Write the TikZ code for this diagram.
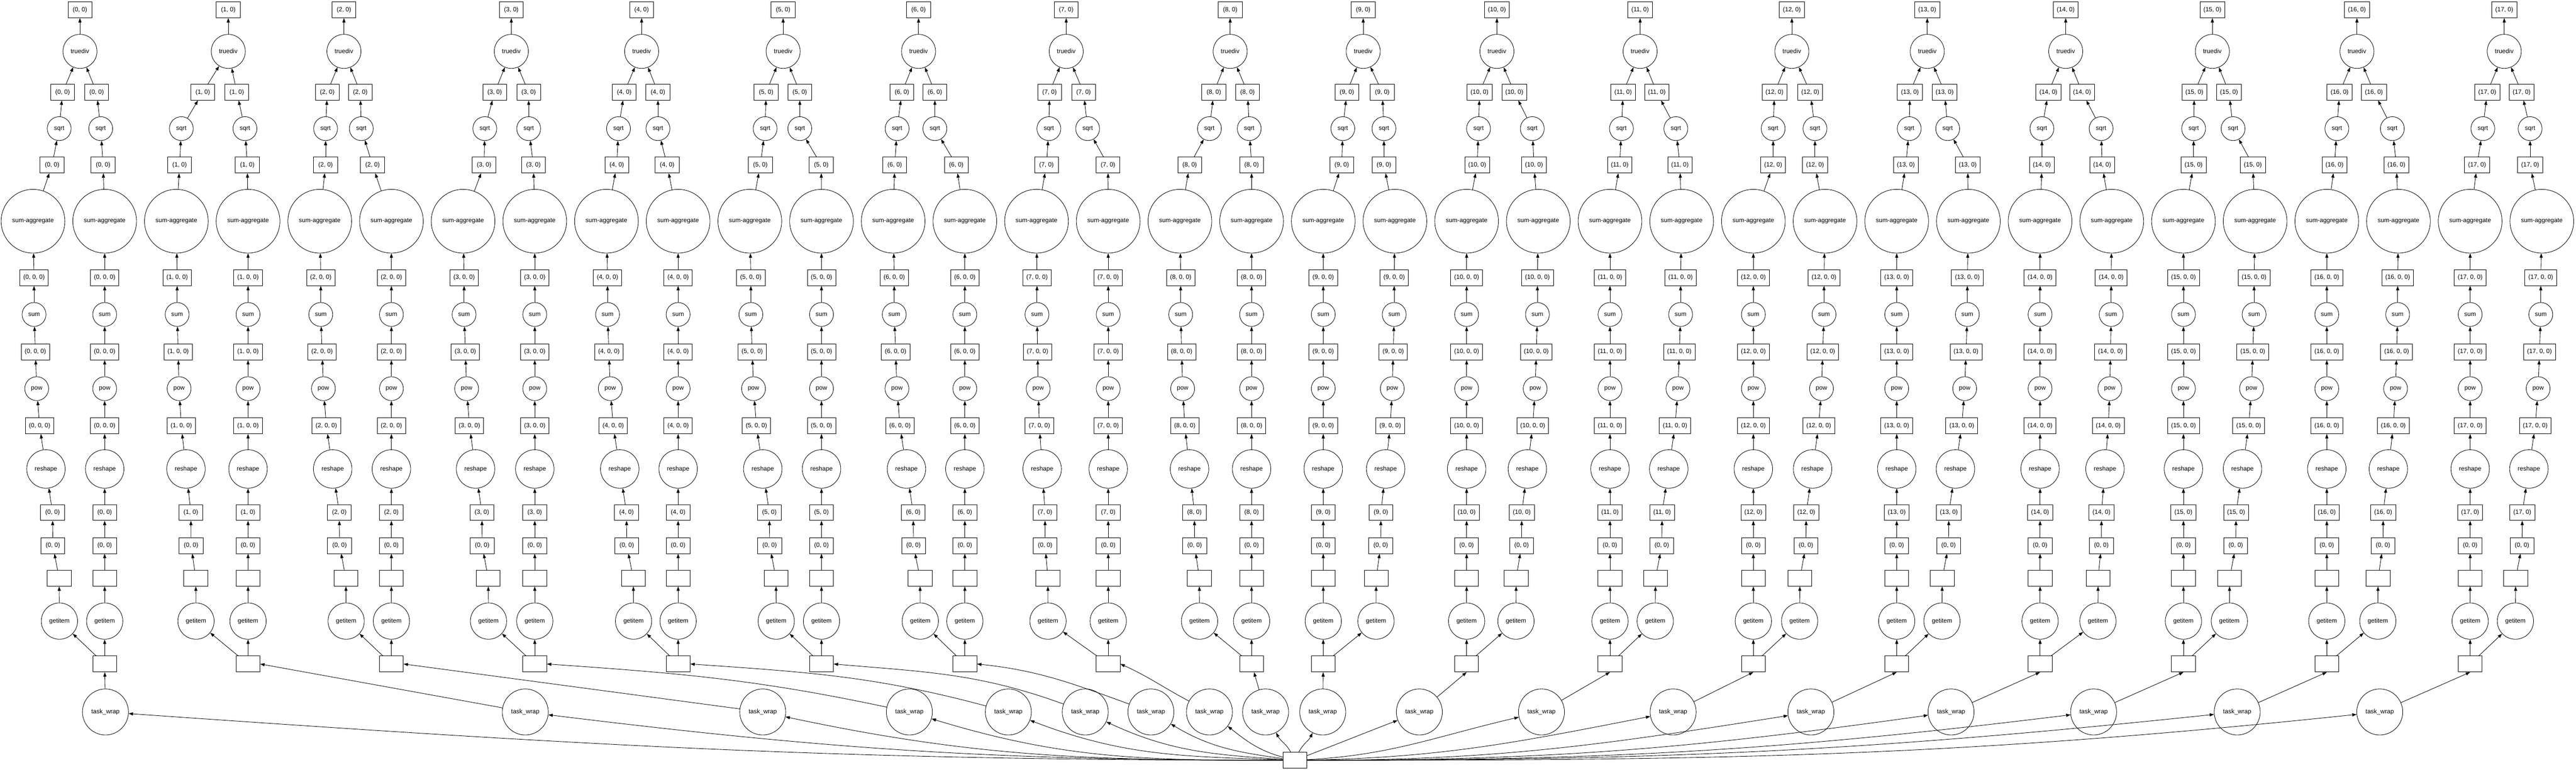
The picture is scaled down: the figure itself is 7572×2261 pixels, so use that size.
\documentclass[tikz,border=0pt]{standalone}
\usepackage{fontspec}
\setmainfont{Liberation Sans}
\usetikzlibrary{arrows.meta}

\tikzset{
  chunk/.style = {draw, rectangle, minimum width=13.5pt, minimum height=9pt, inner xsep=2pt, inner ysep=0pt},
  func/.style = {draw, circle, inner sep=0pt, minimum size=#1},
  dep/.style = {-{Triangle[length=2.5pt,width=1.75pt]}},
}

\begin{document}
\begin{tikzpicture}[x=0.19231pt, y=0.19231pt, line width=0.25pt,
  every node/.append style={font=\fontsize{3.5pt}{4pt}\selectfont}]
\useasboundingbox (0,0) rectangle (7572,2261);
\node[chunk] (root) at (3806,27) {};
\foreach \i/\tx/\bl/\br/\sl/\sr/\cl/\cr/\gap/\wx/\aout/\ain/\cout/\cin in {
  0/235/184/284/174/296/153/303/133/310/180/-4/0/0,
  1/671/596/696/533/720/528/727/153/1544/180/-7/0/0,
  2/1011/962/1059/957/1062/957/1095/133/2242/180/-12/0/0,
  3/1503/1454/1554/1425/1554/1423/1568/136/2673/180/-17/168/-4,
  4/1886/1835/1934/1818/1934/1813/1961/131/2964/178/-21/165/-4,
  5/2302/2252/2351/2249/2351/2235/2414/133/3190/176/-25/160/-5,
  6/2700/2651/2748/2637/2748/2630/2811/131/3383/172/-31/160/-6,
  7/3134/3085/3185/3083/3197/3076/3257/177/3555/165/-38/152/-24,
  8/3616/3568/3667/3555/3672/3497/3679/153/3720/117/-63/0/0,
  9/4007/3959/4063/3947/4068/3944/4068/155/3888/64/-116/0/0,
  10/4400/4349/4451/4346/4504/4342/4509/145/4172/21/-159/0/0,
  11/4821/4771/4870/4766/4926/4761/4938/133/4531/3/-167/0/0,
  12/5267/5216/5321/5212/5335/5212/5335/136/4918/1/-169/0/0,
  13/5665/5614/5716/5612/5725/5602/5784/133/5323/0/-171/0/0,
  14/6072/6021/6120/6002/6176/6002/6179/170/5735/0/-172/0/0,
  15/6503/6450/6552/6448/6564/6448/6622/135/6154/0/-173/0/0,
  16/6928/6877/6978/6869/7032/6862/7044/150/6576/0/-174/0/0,
  17/7361/7311/7412/7298/7437/7281/7437/133/6995/0/-174/0/0} {
  \pgfmathsetmacro\aL{97+421.4*\i}
  \pgfmathsetmacro\aR{\aL+210.7}
  \pgfmathsetmacro\dl{\i<9 ? 210.7-\gap : 0}
  \pgfmathsetmacro\dr{\i<9 ? 0 : \gap-210.7}
  \pgfmathsetmacro\sx{\i<9 ? \aR : \aL}
  \node[chunk] (top\i) at (\tx,2232) {(\i, 0)};
  \node[func=19.25pt] (td\i) at (\tx,2110) {truediv};
  \node[chunk] (sb\i) at (\sx,310) {};
  \node[func=26pt] (tw\i) at (\wx,169) {task\_wrap};
  \draw[dep] (td\i) -- (top\i);
  \draw[dep] (root) to[out=\aout,in=\ain] (tw\i);
  \ifnum\i=0 \draw[dep] (tw\i) -- (sb\i);
  \else\ifnum\i<3 \draw[dep] (tw\i) -- (sb\i.east);
  \else\ifnum\i<8 \draw[dep] (tw\i) to[out=\cout,in=\cin] (sb\i.east);
  \else\ifnum\i<10 \draw[dep] (tw\i) -- (sb\i);
  \else \draw[dep] (tw\i) -- (sb\i.south);
  \fi\fi\fi\fi
  % two chains per block
  \foreach \side/\ax/\dd/\bx/\qx/\cx in {L/\aL/\dl/\bl/\sl/\cl, R/\aR/\dr/\br/\sr/\cr} {
    \node[chunk] (kb\side\i) at (\bx,1990) {(\i, 0)};
    \node[func=13.5pt] (sq\side\i) at (\qx,1883) {sqrt};
    \node[chunk] (kc\side\i) at (\cx,1776) {(\i, 0)};
    \node[func=36pt] (sa\side\i) at (\ax,1611) {sum-aggregate};
    \node[chunk] (kd\side\i) at ({\ax+0.04*\dd},1445) {(\i, 0, 0)};
    \node[func=13.5pt] (su\side\i) at ({\ax+0.04*\dd},1337) {sum};
    \node[chunk] (ke\side\i) at ({\ax+0.09*\dd},1227) {(\i, 0, 0)};
    \node[func=13.5pt] (pw\side\i) at ({\ax+0.14*\dd},1119) {pow};
    \node[chunk] (kf\side\i) at ({\ax+0.25*\dd},1010) {(\i, 0, 0)};
    \node[func=21.75pt] (rs\side\i) at ({\ax+0.49*\dd},883) {reshape};
    \node[chunk] (kg\side\i) at ({\ax+0.74*\dd},755) {(\i, 0)};
    \node[chunk] (kh\side\i) at ({\ax+0.75*\dd},658) {(0, 0)};
    \node[chunk] (em\side\i) at ({\ax+0.99*\dd},562) {};
    \node[func=20.5pt] (gi\side\i) at ({\ax+\dd},436) {getitem};
    \draw[dep] (kb\side\i) -- (td\i);
    \draw[dep] (sb\i) -- (gi\side\i);
    \foreach \lo/\hi in {sq/kb, kc/sq, sa/kc, kd/sa, su/kd, ke/su, pw/ke, kf/pw, rs/kf, kg/rs, kh/kg, em/kh, gi/em}
      \draw[dep] (\lo\side\i) -- (\hi\side\i);
  }
}
\end{tikzpicture}
\end{document}
